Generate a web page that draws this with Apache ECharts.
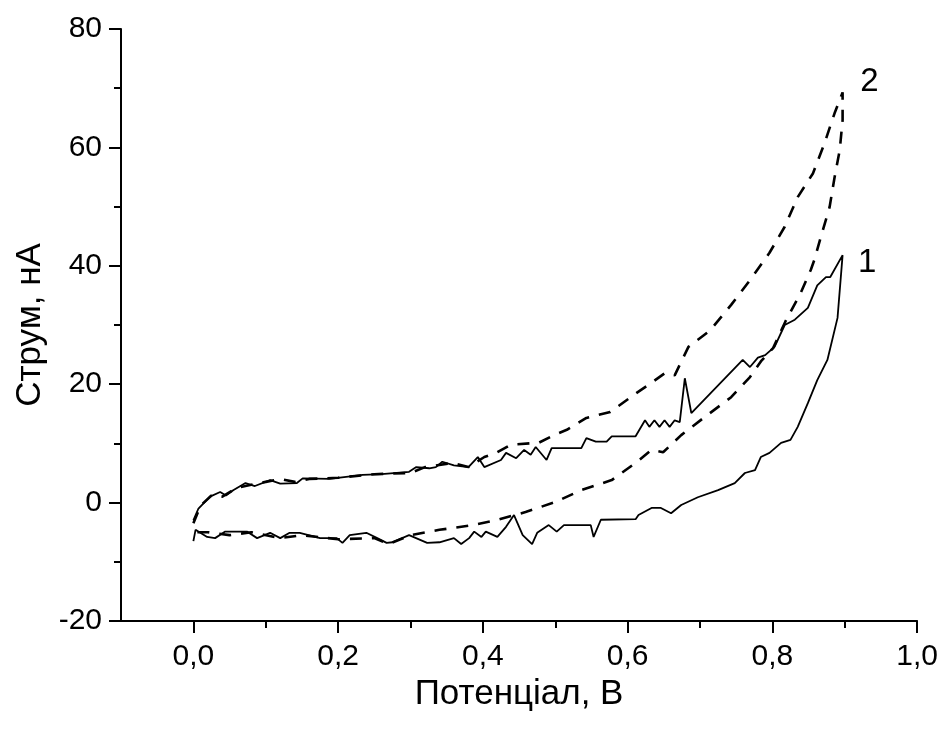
<!DOCTYPE html>
<html>
<head>
<meta charset="utf-8">
<script src="https://cdn.jsdelivr.net/npm/echarts@6/dist/echarts.min.js"></script>
<style>
html,body{margin:0;padding:0;background:#fff;}
#chart{width:941px;height:731px;}
</style>
</head>
<body>
<div id="chart"></div>
<script>
// Curve 1 (solid): forward scan then reverse scan
const curve1Potential = [
0.000,0.007,0.023,0.037,0.045,0.055,0.072,0.085,0.106,0.120,0.143,0.151,0.188,0.234,0.260,0.298,0.308,0.326,0.335,0.344,0.360,0.380,0.393,0.402,0.425,0.432,0.446,0.457,0.466,0.473,0.488,0.495,0.536,0.543,0.556,0.571,0.578,0.611,0.624,0.630,0.637,0.644,0.651,0.658,0.665,0.672,0.679,0.688,0.759,0.769,0.780,0.790,0.803,0.817,0.831,0.849,0.862,0.874,0.880,0.897,
0.890,0.876,0.862,0.849,0.835,0.825,0.812,0.796,0.784,0.776,0.762,0.748,0.725,0.697,0.674,0.660,0.646,0.633,0.615,0.611,0.563,0.553,0.549,0.512,0.502,0.491,0.475,0.468,0.455,0.443,0.432,0.420,0.404,0.398,0.388,0.381,0.370,0.360,0.340,0.323,0.298,0.275,0.267,0.254,0.239,0.216,0.206,0.198,0.175,0.147,0.133,0.120,0.106,0.088,0.074,0.044,0.030,0.019,0.003,0.000
];
const curve1Current = [
-3.0,-1.0,1.0,1.8,1.2,2.1,3.3,2.8,3.8,3.2,3.3,4.1,4.0,4.7,4.8,5.2,6.0,5.8,6.0,6.9,6.3,6.0,7.7,6.0,7.2,8.4,7.5,8.9,8.1,9.4,7.2,9.2,9.2,10.9,10.3,10.3,11.2,11.2,13.9,12.8,13.9,12.8,13.9,12.8,13.9,13.6,21.0,15.1,24.1,22.9,24.5,24.9,26.3,30.0,30.9,32.9,36.7,38.1,38.1,41.8,
31.2,24.1,20.7,16.8,12.8,10.6,10.1,8.4,7.7,5.5,5.0,3.3,2.1,0.9,-0.4,-1.8,-0.9,-0.9,-2.1,-2.8,-2.9,-5.8,-3.8,-3.8,-4.9,-3.8,-5.1,-7.0,-5.5,-2.1,-4.1,-5.8,-4.9,-5.8,-4.9,-6.0,-7.0,-6.0,-6.7,-6.8,-5.5,-6.7,-6.8,-6.0,-5.1,-5.5,-6.8,-6.0,-6.0,-5.1,-5.1,-6.0,-5.1,-6.0,-4.9,-4.9,-6.0,-5.8,-4.6,-6.5
];
// Curve 2 (dashed)
const curve2Potential = [
0.000,0.010,0.025,0.040,0.060,0.080,0.100,0.120,0.140,0.160,0.200,0.250,0.300,0.320,0.358,0.380,0.402,0.420,0.439,0.477,0.500,0.516,0.543,0.576,0.612,0.630,0.652,0.665,0.684,0.714,0.743,0.771,0.796,0.817,0.835,0.856,0.872,0.886,0.897,
0.897,0.893,0.886,0.879,0.867,0.858,0.853,0.839,0.818,0.801,0.785,0.769,0.743,0.707,0.674,0.649,0.633,0.611,0.578,0.536,0.500,0.459,0.418,0.381,0.340,0.300,0.270,0.250,0.200,0.150,0.120,0.080,0.050,0.020,0.000
];
const curve2Current = [
-3.5,-0.5,1.2,1.0,2.5,3.0,3.5,4.0,3.5,4.0,4.2,4.8,5.0,6.0,6.7,6.0,7.7,8.5,9.8,10.1,11.5,12.3,14.3,15.3,18.5,20.0,21.9,21.5,26.3,29.1,33.4,37.9,42.2,46.6,51.6,55.6,60.7,65.8,69.3,
64.6,59.5,55.0,49.9,44.9,41.0,39.3,35.4,30.6,26.1,24.0,21.2,17.8,14.5,11.4,8.5,8.9,6.7,3.8,2.1,0.1,-1.6,-3.0,-3.9,-4.6,-5.5,-7.0,-6.0,-6.2,-5.5,-6.0,-5.0,-5.5,-5.0,-5.0
];
const xMajorTicks = [0.0,0.2,0.4,0.6,0.8,1.0];
const xMinorTicks = [0.1,0.3,0.5,0.7,0.9];
const curveLabels = ['1','2'];
const curveLabelPos = [[0.931,40.5],[0.934,71.0]];

function zip(a,b){return a.map((v,i)=>[v,b[i]]);}

const chart = echarts.init(document.getElementById('chart'), null, {renderer:'canvas'});
const axisColor = '#000';
const font = 'Liberation Sans, Arial, sans-serif';
const option = {
  backgroundColor:'#fff',
  animation:false,
  grid:{left:121,right:21,top:29,bottom:110,containLabel:false},
  xAxis:[{
    type:'value', min:-0.1, max:1.0, position:'bottom',
    name:'Потенціал, В', nameLocation:'middle', nameGap:50,
    nameTextStyle:{fontFamily:font,fontSize:35,color:'#000'},
    axisLine:{show:true,onZero:false,lineStyle:{color:axisColor,width:2}},
    axisTick:{show:true,length:12,inside:false,customValues:xMajorTicks,lineStyle:{color:axisColor,width:2}},
    axisLabel:{show:true,margin:21,customValues:xMajorTicks,fontFamily:font,fontSize:30,color:'#000',
      formatter:v=>v.toFixed(1).replace('.',',')},
    splitLine:{show:false}
  },{
    type:'value', min:-0.1, max:1.0, position:'bottom', gridIndex:0,
    axisLine:{show:false,onZero:false},
    axisTick:{show:true,length:7,customValues:xMinorTicks,lineStyle:{color:axisColor,width:2}},
    axisLabel:{show:false},
    splitLine:{show:false}
  }],
  yAxis:{
    type:'value', min:-20, max:80, interval:20,
    name:'Струм, нА', nameLocation:'middle', nameGap:72,
    nameTextStyle:{fontFamily:font,fontSize:35,color:'#000'},
    axisLine:{show:true,onZero:false,lineStyle:{color:axisColor,width:2}},
    axisTick:{show:true,length:12,lineStyle:{color:axisColor,width:2}},
    minorTick:{show:true,splitNumber:2,length:7,lineStyle:{color:axisColor,width:2}},
    axisLabel:{margin:19,fontFamily:font,fontSize:30,color:'#000'},
    splitLine:{show:false}
  },
  series:[{
    type:'line', name:'1', xAxisIndex:0,
    data:zip(curve1Potential,curve1Current),
    showSymbol:false, symbol:'none',
    lineStyle:{color:'#000',width:1.8},
    markPoint:{symbol:'circle',symbolSize:0,
      label:{show:true,position:'inside',formatter:curveLabels[0],fontFamily:font,fontSize:33,color:'#000'},
      data:[{coord:curveLabelPos[0]}]}
  },{
    type:'line', name:'2', xAxisIndex:0,
    data:zip(curve2Potential,curve2Current),
    showSymbol:false, symbol:'none',
    lineStyle:{color:'#000',width:2.6,type:[12,10]},
    markPoint:{symbol:'circle',symbolSize:0,
      label:{show:true,position:'inside',formatter:curveLabels[1],fontFamily:font,fontSize:33,color:'#000'},
      data:[{coord:curveLabelPos[1]}]}
  }]
};
chart.setOption(option);
</script>
</body>
</html>
